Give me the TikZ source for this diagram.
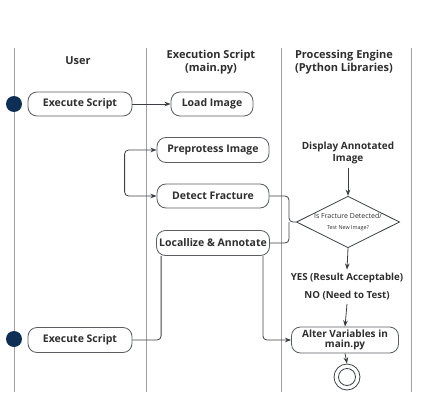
\documentclass[tikz,border=0pt]{standalone}
\usepackage{fontspec}
\setmainfont{Open Sans}
\usetikzlibrary{arrows.meta,positioning,shapes.geometric}
\definecolor{cText}{HTML}{2E2E2E}
\definecolor{cLine}{HTML}{3C4046}
\definecolor{cLane}{HTML}{A0A0A0}
\definecolor{cDot}{HTML}{0D2E55}
\tikzset{
  act/.style={draw=cLine!85, thick, rounded corners=9pt, fill=white,
              minimum height=24pt, inner sep=2pt, text=cText, align=center,
              font=\fontsize{10.5}{11.5}\selectfont\bfseries},
  hdr/.style={text=cText, align=center, font=\fontsize{11}{12.5}\selectfont\bfseries},
  lbl/.style={text=cText, align=center, font=\fontsize{9.7}{10}\selectfont\bfseries},
  lane/.style={cLane, line width=0.8pt},
  startdot/.style={circle, fill=cDot, minimum size=16pt, inner sep=0pt},
  decide/.style={diamond, draw=cLine, thick, fill=white, aspect=2, inner sep=0pt,
                 minimum width=94pt, minimum height=48pt, align=center, text=cText},
  endring/.style={circle, draw=cLine, thick, inner sep=0pt},
  arr/.style={-{Stealth[length=2.2mm]}, thick, cLine},
  duoarr/.style={{Stealth[length=2.2mm]}-{Stealth[length=2.2mm]}, thick, cLine, rounded corners=4pt},
  con/.style={thick, cLine, rounded corners=4pt}
}
\begin{document}
\begin{tikzpicture}[x=1pt, y=-1pt]
\useasboundingbox (0,0) rectangle (430,406);
% ----- swimlanes -----
\foreach \lx in {14,146,281,411} \draw[lane] (\lx,48) -- (\lx,392);
\node[hdr] (hUser) at (78,61) {User};
\node[hdr] (hExec) at (211,62) {Execution Script\\(main.py)};
\node[hdr] (hProc) at (344,62) {Processing Engine\\(Python Libraries)};
% ----- user lane -----
\node[startdot] (s1) at (14,104) {};
\node[act, minimum width=104pt] (ex1) at (80,104) {Execute Script};
\node[startdot] (s2) at (14,339) {};
\node[act, minimum width=104pt, minimum height=25pt] (ex2) at (80,340) {Execute Script};
% ----- execution script lane -----
\node[act, minimum width=82pt] (load) at (212,104) {Load Image};
\node[act, minimum width=112pt, minimum height=25pt] (pre) at (213,150) {Preprotess Image};
\node[act, minimum width=112pt] (det) at (213,196) {Detect Fracture};
\node[act, minimum width=113pt, minimum height=25pt] (loc) at (213,243) {Locallize \& Annotate};
% ----- processing engine lane -----
\node[hdr, font=\fontsize{10}{12.5}\selectfont\bfseries] (disp) at (348,153) {Display Annotated\\Image};
\node[decide] (dec) at (348,222) {{\fontsize{7}{8}\selectfont Is Fracture Detected/}\\[-1pt]{\fontsize{5.4}{6}\selectfont Test New Image?}};
\node[lbl] (yes) at (347,278) {YES (Result Acceptable)};
\node[lbl] (no) at (347,296) {NO (Need to Test)};
\node[act, minimum width=107pt, minimum height=26pt, font=\fontsize{10}{10.5}\selectfont\bfseries] (alt) at (345,340) {Alter Variables in\\main.py};
\node[endring, minimum size=26pt] (end) at (347,377) {};
\node[endring, minimum size=17pt] (endin) at (end) {};
% ----- connectors -----
\draw[arr] (ex1) -- (load);
\draw[duoarr] (pre.west) -- ++(-32,0) |- (det.west);
\coordinate (mrg) at (289,222);
\draw[con] (det.east) -| (mrg) -- (dec.west);
\draw[con] (loc.east) -| (mrg);
\draw[con] (ex2.east) -| ([xshift=5pt]loc.south west);
\draw[arr, rounded corners=4pt] ([xshift=-7pt]loc.south east) |- (alt.west);
\draw[arr] (disp.south) -- (dec.north);
\draw[arr] (dec.south) -- (yes.north);
\draw[arr] (no.south) -- (alt.north);
\draw[arr] (alt.south) -- (end.north);
\end{tikzpicture}
\end{document}
